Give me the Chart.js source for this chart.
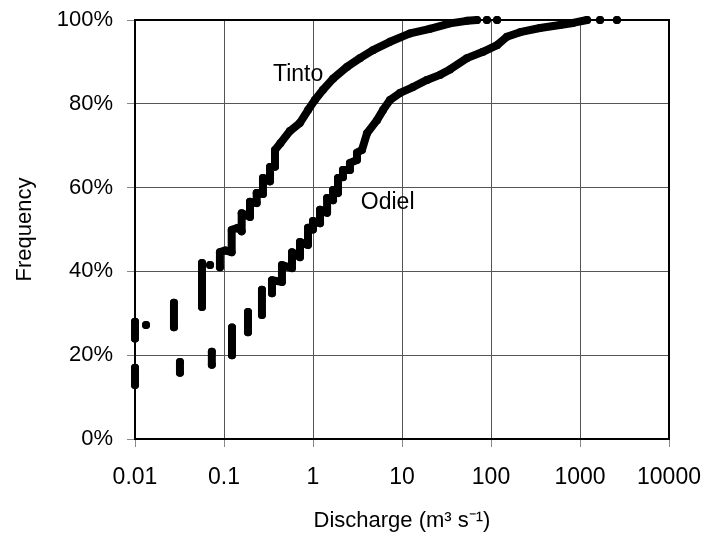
<!DOCTYPE html>
<html>
<head>
<meta charset="utf-8">
<script src="https://cdn.jsdelivr.net/npm/chart.js@4/dist/chart.umd.min.js"></script>
<style>
html,body{margin:0;padding:0;background:#fff;}
#c{display:block;}
</style>
</head>
<body>
<canvas id="c" width="708" height="547"></canvas>
<script>
// Discharge (m3 s-1) and cumulative frequency (%); null = break in the trace
const tintoDischarge = [0.01, 0.01, null, 0.0133, null, 0.0274, 0.0274, null, 0.0566, 0.0566, null, 0.0697, null,
  0.090, 0.090, 0.103, 0.122, 0.122, 0.1435, 0.158, 0.158, 0.196, 0.196, 0.233, 0.233, 0.274, 0.274, 0.329, 0.329,
  0.374, 0.374, 0.43, 0.55, 0.71, 0.88, 1.05, 1.29, 1.68, 2.41, 3.37, 4.72, 7.33, 12.3, 20.6, 34.6, 53.7, 69.6,
  null, 90, null, 117];
const tintoFreq = [24, 28, null, 27.2, null, 26.7, 32.5, null, 31.5, 42, null, 41.5, null,
  41, 44.6, 45, 44.6, 49.9, 50.4, 49.6, 53.9, 53, 56.6, 56.3, 58.7, 58.5, 62.3, 61.5, 64.9,
  65, 69, 70.6, 73.5, 75.4, 78.5, 80.9, 83.3, 86, 88.8, 90.9, 92.8, 94.8, 96.8, 97.9, 99.2, 99.8, 100,
  null, 100, null, 100];

const odielDischarge = [0.01, 0.01, null, 0.032, 0.032, null, 0.073, 0.073, null, 0.123, 0.123, null,
  0.186, 0.186, null, 0.267, 0.267, null, 0.346, 0.346, 0.448, 0.448, 0.581, 0.581, 0.714, 0.714, 0.879, 0.879,
  1.0, 1.0, 1.2, 1.2, 1.44, 1.44, 1.68, 1.68, 1.91, 1.91, 2.17, 2.17, 2.6, 2.6, 3.12, 3.12, 3.55,
  4.05, 5.24, 6.12, 7.33, 9.5, 13.3, 19.1, 26.7, 34.6, 53.7, 81.3, 117, 151, 212, 355, 596, 834, 1200,
  null, 1680, null, 2600];
const odielFreq = [12.9, 17, null, 15.8, 18.4, null, 17.7, 20.8, null, 20, 26.6, null,
  25.5, 30.3, null, 29.6, 35.6, null, 34.8, 37.9, 37.5, 41.5, 40.8, 44.6, 43.4, 47, 46.3, 50.4,
  50, 52, 51.5, 54.7, 54, 57.5, 57, 59.4, 58.7, 62.3, 62.5, 64.2, 64.2, 65.9, 66.6, 68.3, 69,
  73, 76.1, 78.5, 80.9, 82.6, 84, 85.7, 86.9, 88.2, 90.9, 92.4, 94, 96, 97.1, 98.1, 98.8, 99.3, 100,
  null, 100, null, 100];

const xTickValues = [0.01, 0.1, 1, 10, 100, 1000, 10000];
const xTickLabels = ['0.01', '0.1', '1', '10', '100', '1000', '10000'];
const seriesNames = ['Tinto', 'Odiel'];
// label anchors in data units (discharge, frequency)
const labelAnchors = [[0.68, 86.9], [6.9, 56.3]];

function pts(xs, ys) {
  return xs.map((x, i) => ({ x: x === null ? NaN : x, y: ys[i] }));
}

const FONT = "'Liberation Sans', Arial, sans-serif";

const seriesLabels = {
  id: 'seriesLabels',
  afterDatasetsDraw(chart) {
    const { ctx, scales } = chart;
    ctx.save();
    ctx.font = '23px ' + FONT;
    ctx.fillStyle = '#000';
    ctx.textAlign = 'center';
    ctx.textBaseline = 'middle';
    seriesNames.forEach((n, i) => {
      ctx.fillText(n, scales.x.getPixelForValue(labelAnchors[i][0]), scales.y.getPixelForValue(labelAnchors[i][1]));
    });
    ctx.restore();
  }
};

const frame = {
  id: 'frame',
  afterDraw(chart) {
    const a = chart.chartArea, ctx = chart.ctx;
    ctx.save();
    ctx.strokeStyle = '#000';
    ctx.lineWidth = 2;
    ctx.strokeRect(a.left, a.top, a.right - a.left, a.bottom - a.top);
    ctx.restore();
  }
};

const common = {
  showLine: true,
  spanGaps: false,
  borderColor: '#000',
  backgroundColor: '#000',
  borderWidth: 8,
  borderCapStyle: 'round',
  borderJoinStyle: 'round',
  pointRadius: 4,
  pointBorderWidth: 0,
  pointBackgroundColor: '#000',
  clip: false
};

new Chart(document.getElementById('c'), {
  type: 'scatter',
  data: {
    datasets: [
      Object.assign({ label: seriesNames[0], data: pts(tintoDischarge, tintoFreq) }, common),
      Object.assign({ label: seriesNames[1], data: pts(odielDischarge, odielFreq) }, common)
    ]
  },
  options: {
    responsive: false,
    animation: false,
    devicePixelRatio: 1,
    layout: { padding: { left: 0, right: 39, top: 20, bottom: 0 } },
    plugins: { legend: { display: false }, tooltip: { enabled: false } },
    scales: {
      x: {
        type: 'logarithmic',
        position: 'bottom',
        min: 0.01,
        max: 10000,
        afterBuildTicks(s) { s.ticks = xTickValues.map(v => ({ value: v })); },
        afterFit(s) { s.height = 108; s.paddingLeft = 0; s.paddingRight = 0; },
        grid: { color: '#555', lineWidth: 1, tickLength: 8, tickColor: '#888' },
        border: { color: '#000', width: 2 },
        ticks: {
          autoSkip: false, maxRotation: 0, color: '#000', padding: 17,
          font: { family: FONT, size: 23 },
          callback(v) { const i = xTickValues.indexOf(v); return i >= 0 ? xTickLabels[i] : ''; }
        },
        title: {
          display: true, text: 'Discharge (m³ s⁻¹)', color: '#000',
          font: { family: FONT, size: 22 }, padding: { top: 0, bottom: 13 }
        }
      },
      y: {
        min: 0,
        max: 100,
        afterFit(s) { s.width = 135; s.paddingTop = 0; s.paddingBottom = 0; },
        grid: { color: '#555', lineWidth: 1, tickLength: 8, tickColor: '#888' },
        border: { color: '#000', width: 2 },
        ticks: {
          stepSize: 20, color: '#000', padding: 14,
          font: { family: FONT, size: 22 },
          callback(v) { return v + '%'; }
        },
        title: {
          display: true, text: 'Frequency', color: '#000',
          font: { family: FONT, size: 22 }, padding: { top: 12, bottom: 0 }
        }
      }
    }
  },
  plugins: [seriesLabels, frame]
});
</script>
</body>
</html>
